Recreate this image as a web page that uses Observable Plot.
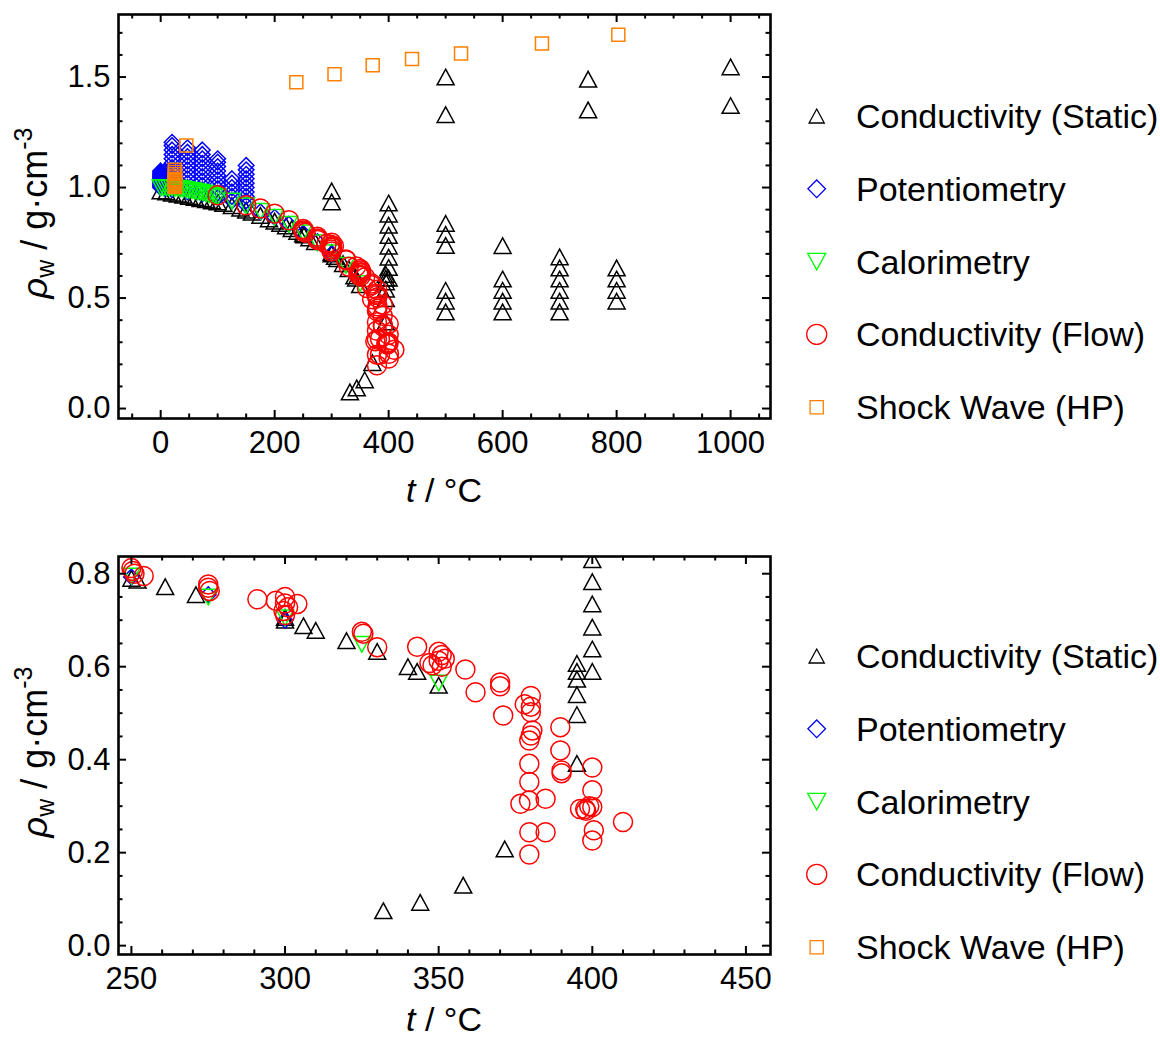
<!DOCTYPE html>
<html><head><meta charset="utf-8">
<script src="https://cdn.jsdelivr.net/npm/d3@7"></script>
<script src="https://cdn.jsdelivr.net/npm/@observablehq/plot@0.6"></script>
<style>
html,body{margin:0;padding:0;background:#fff;}
#wrap{position:relative;width:1160px;height:1042px;overflow:hidden;font-family:"Liberation Sans",Arial,sans-serif;}
#wrap svg{display:block;}
</style></head><body><div id="wrap"></div>
<script>
// ---------- data: [t (°C), rho_w (g/cm3)] ----------
const seriesNames = ["Conductivity (Static)", "Potentiometry", "Calorimetry", "Conductivity (Flow)", "Shock Wave (HP)"];

const conductivityStatic = [
 [0,0.985],[10,0.98],[20,0.975],[30,0.97],[40,0.965],[50,0.96],[60,0.955],[70,0.95],[80,0.945],[90,0.94],[100,0.935],[110,0.928],[125,0.918],[140,0.907],[150,0.898],[160,0.888],[175,0.874],[190,0.858],[200,0.848],[210,0.838],[220,0.826],[230,0.814],[240,0.802],
 [250,0.79],[252,0.786],[261,0.772],[271,0.755],[300,0.70],[300,0.706],[306,0.688],[310,0.678],[320,0.656],[330,0.633],[340,0.600],[343,0.590],[350,0.560],
 [332,0.075],[344,0.093],[358,0.130],[371.5,0.208],
 [395,0.392],[395,0.497],[395,0.540],[395,0.573],[395,0.590],[395,0.607],
 [400,0.590],[400,0.638],[400,0.685],[400,0.735],[400,0.783],[400,0.830],[400,0.880],[400,0.930],
 [300,0.935],[300,0.985],
 [500,0.437],[500,0.486],[500,0.535],[500,0.738],[500,0.788],[500,0.838],[500,1.330],[500,1.500],
 [600,0.437],[600,0.486],[600,0.535],[600,0.586],[600,0.737],
 [700,0.437],[700,0.486],[700,0.535],[700,0.586],[700,0.636],[700,0.686],
 [750,1.351],[750,1.490],
 [800,0.486],[800,0.535],[800,0.586],[800,0.636],
 [1000,1.371],[1000,1.546]
];

const potentiometry = [
 [0,1.000],[0,1.005],[0,1.010],[0,1.015],[0,1.020],[0,1.025],[0,1.030],[0,1.035],[0,1.040],[0,1.045],[0,1.050],[0,1.055],[0,1.060],[0,1.065],[0,1.070],[0,1.075],
 [8,0.995],[8,1.005],[8,1.015],[8,1.025],[8,1.035],[8,1.045],[8,1.055],[8,1.065],[8,1.075],
 [20,0.99],[20,1.01],[20,1.03],[20,1.05],[20,1.07],[20,1.09],[20,1.11],[20,1.13],[20,1.15],[20,1.17],[20,1.19],[20,1.205],
 [47,0.98],[47,1.00],[47,1.02],[47,1.04],[47,1.06],[47,1.08],[47,1.10],[47,1.12],[47,1.14],[47,1.16],[47,1.18],
 [73,0.97],[73,0.99],[73,1.01],[73,1.03],[73,1.05],[73,1.07],[73,1.09],[73,1.11],[73,1.13],[73,1.15],[73,1.17],
 [100,0.955],[100,0.975],[100,0.995],[100,1.015],[100,1.035],[100,1.055],[100,1.075],[100,1.095],[100,1.115],[100,1.13],
 [125,0.94],[125,0.96],[125,0.98],[125,1.00],[125,1.02],[125,1.04],
 [150,0.92],[150,0.94],[150,0.96],[150,0.98],[150,1.00],[150,1.02],[150,1.04],[150,1.06],[150,1.08],[150,1.10],
 [175,0.89],[200,0.865],[225,0.834],[250,0.793],[275,0.755],[300,0.70]
];

const calorimetry = [
 [0,1.000],[5,1.000],[10,0.999],[15,0.999],[20,0.998],[25,0.997],[30,0.996],[35,0.994],[40,0.992],[45,0.990],[50,0.988],[55,0.986],[60,0.983],[65,0.980],[70,0.978],[75,0.975],[80,0.972],[85,0.968],[90,0.965],[95,0.962],[100,0.958],
 [125,0.939],[150,0.917],[175,0.892],[200,0.865],[225,0.834],[250,0.795],[275,0.750],[300,0.705],[325,0.648],[350,0.565]
];

const conductivityFlow = [
 [100,0.965],[150,0.920],[175,0.905],[200,0.882],[225,0.852],
 [250,0.812],[250.5,0.806],[251,0.800],[254,0.795],
 [275,0.777],[275,0.770],[275.5,0.763],
 [291,0.745],[297,0.742],[300,0.750],[300,0.736],[301,0.728],[299.5,0.720],[300,0.711],[304,0.735],
 [325,0.675],[325.5,0.671],[330,0.642],[343,0.643],
 [347,0.608],[348,0.603],[350,0.632],[351,0.625],[350,0.613],[352,0.617],[351,0.600],
 [358.7,0.594],[362,0.545],[370,0.566],[370,0.558],[371,0.495],
 [380,0.537],[378,0.519],[380,0.514],[380,0.502],[380.5,0.463],[380,0.452],[379.5,0.441],[379.5,0.391],[379.5,0.352],[376.6,0.305],[379.4,0.312],[384.8,0.316],[379.5,0.244],[384.8,0.244],[379.5,0.196],
 [389.6,0.470],[389.6,0.420],[390,0.377],[390,0.371],
 [400,0.383],[400,0.334],[396,0.294],[397.7,0.294],[400,0.298],[398,0.290],[399,0.300],[400.5,0.248],[400,0.226],[410,0.266]
];

const shockWave = [
 [25,1.003],[25,1.008],[25,1.013],[25,1.018],[25,1.023],[25,1.028],[25,1.033],[25,1.040],[25,1.050],[25,1.060],[25,1.070],[25,1.080],
 [45,1.190],[238,1.477],[305,1.513],[372,1.553],[441,1.582],[527,1.607],[669,1.652],[803,1.691]
];

// tick values
const topXMajor = [0,200,400,600,800,1000];
const topXMinor = [-50,50,100,150,250,300,350,450,500,550,650,700,750,850,900,950,1050];
const topYMajor = [0,0.5,1.0,1.5];
const topYMinor = [0.1,0.2,0.3,0.4,0.6,0.7,0.8,0.9,1.1,1.2,1.3,1.4,1.6,1.7];
const botXMajor = [250,300,350,400,450];
const botXMinor = [260,270,280,290,310,320,330,340,360,370,380,390,410,420,430,440];
const botYMajor = [0,0.2,0.4,0.6,0.8];
const botYMinor = [0.05,0.1,0.15,0.25,0.3,0.35,0.45,0.5,0.55,0.65,0.7,0.75];

// ---------- symbols & styles ----------
const rOf = s => Math.sqrt(s / Math.PI);
const symTriUp = {draw(c, s){const r=rOf(s), h=r*0.92; c.moveTo(0,-h); c.lineTo(r,h); c.lineTo(-r,h); c.closePath();}};
const symTriDown = {draw(c, s){const r=rOf(s), h=r*0.92; c.moveTo(0,h); c.lineTo(r,-h); c.lineTo(-r,-h); c.closePath();}};
const symDiamond = {draw(c, s){const r=rOf(s); c.moveTo(0,-r); c.lineTo(r,0); c.lineTo(0,r); c.lineTo(-r,0); c.closePath();}};
const symSquare = {draw(c, s){const r=rOf(s); c.moveTo(-r,-r); c.lineTo(r,-r); c.lineTo(r,r); c.lineTo(-r,r); c.closePath();}};
const symCircle = {draw(c, s){const r=rOf(s); c.moveTo(r,0); c.arc(0,0,r,0,2*Math.PI);}};

const series = [
 {name: seriesNames[0], data: conductivityStatic, symbol: symTriUp, r: 8.5, color: "#000000", lr: 7.6},
 {name: seriesNames[1], data: potentiometry, symbol: symDiamond, r: 7.8, color: "#0000ff", lr: 8.8},
 {name: seriesNames[2], data: calorimetry, symbol: symTriDown, r: 8.5, color: "#00ff00", lr: 9},
 {name: seriesNames[3], data: conductivityFlow, symbol: "circle", r: 9.5, color: "#ff0000", lr: 10, lsym: symCircle},
 {name: seriesNames[4], data: shockWave, symbol: symSquare, r: 6.5, color: "#ff8000", lr: 6.6}
];

const FONT = "'Liberation Sans', Arial, Helvetica, sans-serif";
const W = 1160, ML = 118, MR = 390;

function panel({xDomain, yDomain, xMajor, xMinor, yMajor, yMinor, height, mt, mb, legendTop, titleDy}) {
  const fw = W - ML - MR, fh = height - mt - mb;
  const majorLen = 8, minorLen = 4.5, tw = 2;
  const marks = series.map(s => Plot.dot(s.data, {x: d => d[0], y: d => d[1], symbol: s.symbol, r: s.r, stroke: s.color, fill: "none", strokeWidth: 1.5, clip: true}));
  marks.push(
    Plot.tickX(xMajor, {x: d => d, insetTop: fh - majorLen, strokeWidth: tw}),
    Plot.tickX(xMajor, {x: d => d, insetBottom: fh - majorLen, strokeWidth: tw}),
    Plot.tickX(xMinor, {x: d => d, insetTop: fh - minorLen, strokeWidth: tw}),
    Plot.tickX(xMinor, {x: d => d, insetBottom: fh - minorLen, strokeWidth: tw}),
    Plot.tickY(yMajor, {y: d => d, insetRight: fw - majorLen, strokeWidth: tw}),
    Plot.tickY(yMajor, {y: d => d, insetLeft: fw - majorLen, strokeWidth: tw}),
    Plot.tickY(yMinor, {y: d => d, insetRight: fw - minorLen, strokeWidth: tw}),
    Plot.tickY(yMinor, {y: d => d, insetLeft: fw - minorLen, strokeWidth: tw}),
    Plot.frame({stroke: "#000", strokeWidth: 2.6}),
    Plot.axisX({ticks: xMajor, tickSize: 0, tickPadding: 12, fontSize: 31, label: null, tickFormat: d => String(d)}),
    Plot.axisY({ticks: yMajor, tickSize: 0, tickPadding: 8, fontSize: 31, label: null, tickFormat: d => d.toFixed(1)})
  );
  const svgEl = Plot.plot({
    width: W, height, marginLeft: ML, marginRight: MR, marginTop: mt, marginBottom: mb,
    x: {domain: xDomain}, y: {domain: yDomain},
    style: {fontFamily: FONT, fontSize: "31px", background: "#fff", color: "#000"},
    marks
  });
  const svg = d3.select(svgEl);
  const cx = ML + fw / 2, cy = mt + fh / 2;
  // x title
  const xt = svg.append("text").attr("x", cx).attr("y", height - mb + titleDy).attr("text-anchor", "middle")
    .attr("font-size", 34).attr("font-family", FONT).attr("fill", "#000");
  xt.append("tspan").attr("font-style", "italic").text("t");
  xt.append("tspan").text(" / °C");
  // y title
  const yt = svg.append("text").attr("transform", `translate(47,${cy - 3}) rotate(-90)`).attr("text-anchor", "middle")
    .attr("font-size", 36).attr("font-family", FONT).attr("fill", "#000");
  yt.append("tspan").attr("font-style", "italic").text("ρ");
  yt.append("tspan").attr("font-size", 25).attr("dy", 7).text("w");
  yt.append("tspan").attr("dy", -7).text(" / g·cm");
  yt.append("tspan").attr("font-size", 25).attr("dy", -15).text("-3");
  // legend
  const lg = svg.append("g").attr("font-family", FONT).attr("font-size", 34).attr("fill", "#000").attr("text-anchor", "start");
  series.forEach((s, i) => {
    const y = legendTop + i * 72.8;
    lg.append("path").attr("transform", `translate(816.7,${y})`)
      .attr("d", d3.symbol().type(s.lsym || s.symbol).size(Math.PI * s.lr * s.lr)())
      .attr("fill", "none").attr("stroke", s.color).attr("stroke-width", 1.3);
    lg.append("text").attr("x", 856).attr("y", y + 12).attr("text-anchor", "start").text(s.name);
  });
  return svgEl;
}

const wrap = document.getElementById("wrap");
wrap.appendChild(panel({
  xDomain: [-74, 1070], yDomain: [-0.045, 1.783],
  xMajor: topXMajor, xMinor: topXMinor, yMajor: topYMajor, yMinor: topYMinor,
  height: 520, mt: 14, mb: 102, legendTop: 116, titleDy: 84
}));
wrap.appendChild(panel({
  xDomain: [245.8, 458], yDomain: [-0.019, 0.837],
  xMajor: botXMajor, xMinor: botXMinor, yMajor: botYMajor, yMinor: botYMinor,
  height: 522, mt: 36, mb: 88, legendTop: 136, titleDy: 77
}));
</script></body></html>
